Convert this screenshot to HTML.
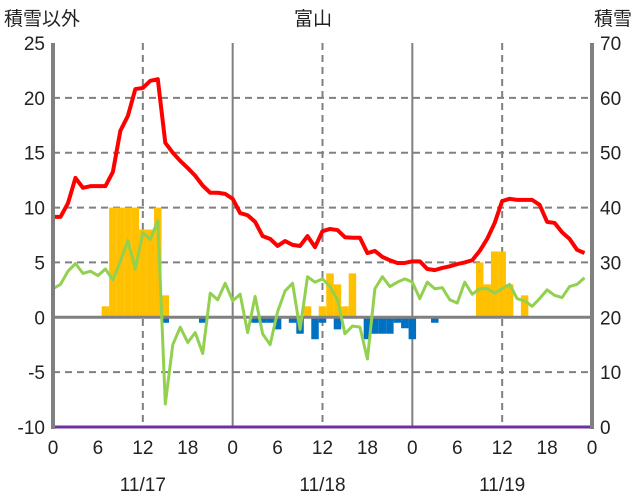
<!DOCTYPE html>
<html><head><meta charset="utf-8"><style>
body{margin:0;background:#fff;}
svg{display:block;font-family:"Liberation Sans","Noto Sans CJK JP",sans-serif;}
</style></head><body>
<svg id="c" width="636" height="501"></svg>
<script>
const hours=[...Array(72).keys()];
const snowDepth=[38.3,38.3,40.8,45.4,43.6,43.9,43.9,43.9,46.5,54,56.7,61.6,61.8,63.1,63.4,51.8,50,48.5,47.2,45.8,44,42.7,42.7,42.5,41.6,39,38.6,37.4,34.8,34.3,33,33.9,33.2,33,34.8,32.8,35.7,36.1,35.9,34.6,34.5,34.5,31.7,32.1,31,30.4,29.9,29.9,30.2,30.2,28.8,28.6,29,29.3,29.7,30,30.4,32.1,34.3,37.2,41.2,41.6,41.4,41.4,41.4,40.5,37.4,37.2,35.5,34.3,32.3,31.7];
const otherValues=[2.6,3.0,4.2,4.9,4.0,4.2,3.8,4.4,3.4,5.1,7.0,4.4,7.7,7.1,8.8,-7.9,-2.5,-0.9,-2.3,-1.4,-3.3,2.2,1.6,3.1,1.5,2.1,-1.4,1.9,-1.5,-2.5,0.5,2.4,3.1,-1.1,3.7,3.2,3.5,2.8,1.6,-1.5,-0.8,-0.9,-3.8,2.6,3.7,2.8,3.2,3.5,3.2,1.7,3.2,2.6,2.7,1.6,1.3,3.2,2.1,2.6,2.6,2.2,2.6,3.0,1.7,1.5,1.0,1.7,2.5,2.0,1.8,2.8,3.0,3.6];
const posBars={7:1,8:10,9:10,10:10,11:10,12:8,13:8,14:10,15:2,34:1,36:1,37:4,38:3,39:1,40:4,57:5,58:3,59:6,60:6,61:3,63:2};
const negBars={15:-0.5,20:-0.5,27:-0.5,28:-0.5,29:-0.5,30:-1.1,32:-0.5,33:-1.5,35:-2,36:-0.5,38:-1.1,42:-2,43:-1.5,44:-1.5,45:-1.5,46:-0.5,47:-1,48:-2,51:-0.5};
const leftTicks=[25,20,15,10,5,0,-5,-10];
const rightTicks=[70,60,50,40,30,20,10,0];
const hourLabels=["0","6","12","18","0","6","12","18","0","6","12","18","0"];
const dateLabels=["11/17","11/18","11/19"];

const X0=53,X1=592,YT=43,YB=427;
const xs=h=>X0+h*(X1-X0)/72;
const yl=v=>YB-(v+10)*(YB-YT)/35;
const yr=v=>YB-v*(YB-YT)/70;
const svg=document.getElementById('c');
const NS='http://www.w3.org/2000/svg';
function mk(t,a,p){const e=document.createElementNS(NS,t);for(const k in a)e.setAttribute(k,a[k]);(p||svg).appendChild(e);return e;}

// grid
leftTicks.forEach(v=>{
 if(v===25||v===-10||v===0)return;
 const g=mk('line',{x1:X0,x2:X1,y1:yl(v),y2:yl(v),stroke:'#808080','stroke-width':2,'stroke-dasharray':'7,5'});
 
 
});
[12,36,60].forEach(h=>{
 const g=mk('line',{x1:xs(h),x2:xs(h),y1:YT,y2:YB,stroke:'#808080','stroke-width':2,'stroke-dasharray':'7,5'});
 
 
});
[24,48].forEach(h=>{
 const g=mk('line',{x1:xs(h),x2:xs(h),y1:YT,y2:YB,stroke:'#808080','stroke-width':2});
 
 
});
// bars
const bw=(X1-X0)/72;
for(const h in posBars){
 const v=posBars[h];
 const r=mk('rect',{x:xs(+h)-bw/2,y:yl(v),width:bw,height:yl(0)-yl(v),fill:'#ffc000'});
 
 
}
for(const h in negBars){
 const v=negBars[h];
 const r=mk('rect',{x:xs(+h)-bw/2,y:yl(0),width:bw,height:yl(v)-yl(0),fill:'#0070c0'});
 
 
}
// zero line
const z=mk('line',{x1:X0,x2:X1,y1:yl(0),y2:yl(0),stroke:'#808080','stroke-width':3});


// series
const g1=mk('polyline',{points:hours.map(h=>xs(h)+','+yl(otherValues[h])).join(' '),fill:'none',stroke:'#92d050','stroke-width':3,'stroke-linejoin':'round'});


const r1=mk('polyline',{points:hours.map(h=>xs(h)+','+yr(snowDepth[h])).join(' '),fill:'none',stroke:'#ff0000','stroke-width':4,'stroke-linejoin':'round'});


const pb=mk('line',{x1:X0,x2:X1,y1:YB,y2:YB,stroke:'#7030a0','stroke-width':3});


// axes
const la=mk('line',{x1:X0,x2:X0,y1:YT,y2:YB+2,stroke:'#808080','stroke-width':4});


const ra=mk('line',{x1:X1,x2:X1,y1:YT,y2:YB+2,stroke:'#808080','stroke-width':4});


// labels
leftTicks.forEach(v=>{
 const t=mk('text',{x:45,y:yl(v)+7,'text-anchor':'end','font-size':19,fill:'#222'});t.textContent=v;
 
 
});
rightTicks.forEach(v=>{
 const t=mk('text',{x:600,y:yr(v)+7,'text-anchor':'start','font-size':19,fill:'#222'});t.textContent=v;
 
 
});
hourLabels.forEach((s,i)=>{
 const t=mk('text',{x:xs(i*6),y:454,'text-anchor':'middle','font-size':19,fill:'#222'});t.textContent=s;
 
 
});
dateLabels.forEach((s,i)=>{
 const t=mk('text',{x:xs(12+24*i),y:491,'text-anchor':'middle','font-size':19,fill:'#222'});t.textContent=s;
 
 
});
const tt=mk('text',{x:313,y:25,'text-anchor':'middle','font-size':19,fill:'#222'});tt.textContent='富山';


const lt=mk('text',{x:4,y:25,'font-size':19,fill:'#222'});lt.textContent='積雪以外';


const rt=mk('text',{x:632,y:25,'text-anchor':'end','font-size':19,fill:'#222'});rt.textContent='積雪';


</script>
</body></html>
